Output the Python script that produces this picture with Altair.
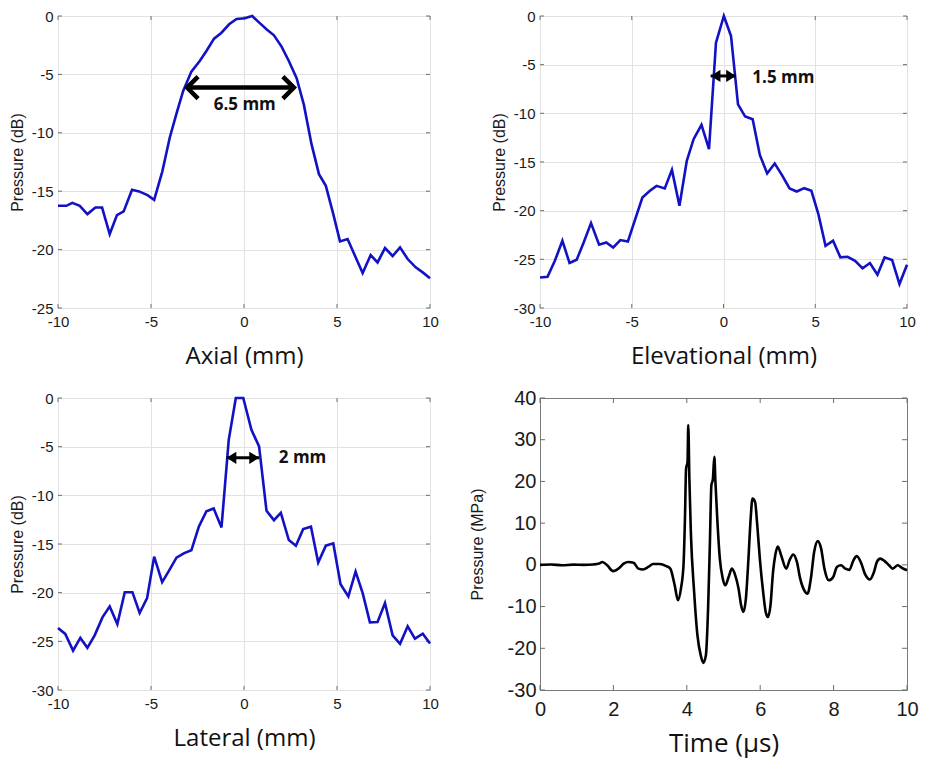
import altair as alt
import pandas as pd

# ---------------- data ----------------
axial_x = [-10, -9.55, -9.23, -8.83, -8.42, -7.99, -7.63, -7.22, -6.83, -6.47,
           -6.02, -5.64, -5.19, -4.83, -4.39, -3.99, -3.63, -3.27, -2.83, -2.38,
           -2.02, -1.61, -1.21, -0.80, -0.40, 0.04, 0.44, 0.82, 1.21, 1.61,
           2.02, 2.41, 2.83, 3.22, 3.63, 4.03, 4.40, 4.80, 5.16, 5.57,
           5.96, 6.38, 6.81, 7.18, 7.58, 7.99, 8.39, 8.80, 9.23, 9.61, 10.0]
axial_db = [-16.25, -16.25, -16.0, -16.25, -16.96, -16.4, -16.4, -18.67, -17.05, -16.73,
            -14.88, -15.02, -15.34, -15.74, -13.3, -10.4, -8.35, -6.41, -4.76, -3.85,
            -3.0, -1.94, -1.43, -0.71, -0.26, -0.2, 0.0, -0.57, -1.14, -1.65,
            -2.62, -3.85, -5.33, -7.61, -10.97, -13.54, -14.54, -16.96, -19.3, -19.1,
            -20.5, -22.0, -20.47, -21.1, -19.87, -20.55, -19.81, -20.81, -21.52, -21.95, -22.46]

elev_x = [-10, -9.59, -9.19, -8.78, -8.39, -8.0, -7.62, -7.22, -6.78, -6.39,
          -6.01, -5.62, -5.21, -4.81, -4.42, -4.01, -3.65, -3.20, -2.81, -2.40,
          -2.0, -1.63, -1.2, -0.79, -0.41, 0.02, 0.41, 0.79, 1.18, 1.59,
          1.98, 2.38, 2.79, 3.18, 3.60, 3.99, 4.40, 4.79, 5.17, 5.56,
          5.97, 6.37, 6.76, 7.17, 7.58, 7.98, 8.39, 8.78, 9.19, 9.59, 10.0]
elev_db = [-26.86, -26.79, -25.15, -23.09, -25.38, -25.04, -23.26, -21.28, -23.5, -23.26,
           -23.78, -23.02, -23.16, -20.87, -18.65, -17.96, -17.45, -17.72, -15.81, -19.5,
           -14.88, -12.66, -11.19, -13.68, -2.74, 0.0, -2.05, -9.07, -10.33, -10.6,
           -14.27, -16.18, -15.16, -16.32, -17.72, -18.03, -17.69, -17.96, -20.36, -23.61,
           -23.09, -24.8, -24.74, -25.15, -25.93, -25.38, -26.58, -24.8, -25.08, -27.54, -25.56]

lat_x = [-10, -9.61, -9.19, -8.80, -8.42, -8.03, -7.61, -7.22, -6.81, -6.41,
         -6.0, -5.61, -5.21, -4.83, -4.40, -4.03, -3.63, -3.24, -2.83, -2.43,
         -2.02, -1.63, -1.21, -0.82, -0.44, -0.04, 0.40, 0.81, 1.21, 1.61,
         1.98, 2.41, 2.79, 3.18, 3.60, 3.99, 4.40, 4.80, 5.19, 5.61,
         6.0, 6.38, 6.77, 7.18, 7.58, 7.99, 8.39, 8.80, 9.19, 9.61, 10.0]
lat_db = [-23.63, -24.24, -25.95, -24.65, -25.67, -24.38, -22.54, -21.41, -23.22, -19.95,
          -19.95, -22.09, -20.56, -16.3, -18.92, -17.73, -16.4, -15.96, -15.65, -13.23,
          -11.63, -11.35, -13.3, -4.3, 0.0, 0.0, -3.27, -4.98, -11.59, -12.55,
          -11.8, -14.59, -15.17, -13.47, -13.23, -16.91, -15.17, -14.93, -19.13, -20.39,
          -17.83, -20.05, -23.05, -23.01, -21.07, -24.38, -25.26, -23.46, -24.72, -24.21, -25.23]

time_us = [0, 0.3, 0.6, 0.9, 1.2, 1.45, 1.61, 1.70, 1.83, 1.99,
           2.15, 2.28, 2.41, 2.55, 2.68, 2.81, 2.95, 3.08, 3.26, 3.44,
           3.55, 3.67, 3.76, 3.84, 3.91, 3.95, 3.98, 4.02, 4.04, 4.07,
           4.11, 4.20, 4.29, 4.38, 4.45, 4.52, 4.58, 4.63, 4.67, 4.71,
           4.75, 4.78, 4.83, 4.90, 4.98, 5.05, 5.14, 5.23, 5.32, 5.41,
           5.48, 5.54, 5.61, 5.68, 5.74, 5.79, 5.86, 5.92, 5.99, 6.08,
           6.15, 6.21, 6.28, 6.35, 6.41, 6.48, 6.57, 6.71, 6.80, 6.90,
           7.00, 7.09, 7.20, 7.29, 7.38, 7.47, 7.57, 7.66, 7.75, 7.87,
           7.99, 8.09, 8.20, 8.32, 8.43, 8.54, 8.63, 8.74, 8.85, 8.99,
           9.10, 9.18, 9.27, 9.39, 9.51, 9.61, 9.75, 9.86, 10.0]
pressure_mpa = [0, 0.1, -0.1, 0.05, 0, 0.1, 0.3, 0.7, -0.1, -1.5,
                -0.8, 0.3, 0.7, 0.5, -0.9, -1.1, -0.5, 0.2, 0.2, -0.3,
                -0.9, -4.9, -8.5, -5.7, -0.1, 11.1, 23.0, 24.7, 33.5, 20.7,
                7.9, -6.5, -16.9, -21.7, -23.5, -21.7, -10.5, 5.5, 19.1, 20.5,
                25.9, 19.9, 11.1, 1.5, -3.3, -4.9, -2.9, -0.9, -2.5, -5.7,
                -9.7, -11.3, -8.1, 1.5, 11.1, 15.9, 15.1, 9.5, 1.5, -6.5,
                -11.3, -12.5, -9.7, -1.7, 2.3, 4.4, 2.3, -0.9, 1.1, 2.5,
                0.7, -3.3, -6.1, -6.9, -3.3, 3.1, 5.7, 3.9, -0.9, -3.7,
                -2.9, -0.5, -0.1, -0.9, -1.2, 1.1, 2.1, 0.7, -2.1, -3.5,
                -1.7, 0.7, 1.5, 0.9, -0.1, -0.9, -0.1, -0.7, -1.3]

# annotations: arrow ends (mm), arrow level (dB), label text and position
axial_arrow = [-3.06, 2.68]
axial_arrow_db = -6.13
axial_label = "6.5 mm"
axial_label_pos = [0.04, -7.64]

elev_arrow = [-0.70, 0.68]
elev_arrow_db = -6.16
elev_label = "1.5 mm"
elev_label_pos = [1.57, -6.33]

lat_arrow = [-0.94, 0.81]
lat_arrow_db = -6.14
lat_label = "2 mm"
lat_label_pos = [1.87, -6.14]

profile_xticks = [-10, -5, 0, 5, 10]
time_xticks = [0, 2, 4, 6, 8, 10]
time_yticks = [-30, -20, -10, 0, 10, 20, 30, 40]

# ---------------- styling ----------------
TICK_FONT = "Liberation Sans"
TITLE_FONT = "Open Sans"
BLUE = "#1212c4"
TICK_COLOR = "#6e6e6e"
W1, W2, H = 372, 367, 292
HYPHEN = "datum.value < 0 ? '-' + (-datum.value) : '' + datum.value"

CHEVRON_L = "M 1 -1 L 0 0 L 1 1"
CHEVRON_R = "M -1 -1 L 0 0 L -1 1"
TRI_L = "M 0 0 L 1.6 -1 L 1.6 1 Z"
TRI_R = "M 0 0 L -1.6 -1 L -1.6 1 Z"


def inner_ticks(X, Y, xname, yname, xvals, yvals, length, width):
    """MATLAB-style tick marks drawn inside the box on all four sides."""
    xdf = pd.DataFrame({xname: xvals})
    ydf = pd.DataFrame({yname: yvals})
    return [
        alt.Chart(ydf).mark_rule(color=TICK_COLOR, strokeWidth=1).encode(
            y=Y, x=alt.value(0), x2=alt.value(length)),
        alt.Chart(ydf).mark_rule(color=TICK_COLOR, strokeWidth=1).encode(
            y=Y, x=alt.value(width - length), x2=alt.value(width)),
        alt.Chart(xdf).mark_rule(color=TICK_COLOR, strokeWidth=1).encode(
            x=X, y=alt.value(H - length), y2=alt.value(H)),
        alt.Chart(xdf).mark_rule(color=TICK_COLOR, strokeWidth=1).encode(
            x=X, y=alt.value(0), y2=alt.value(length)),
    ]


def profile_panel(xs, ys, ymin, xtitle, width, arrow, arrow_db, label, label_pos,
                  label_align, chevron):
    yvals = list(range(ymin, 1, 5))
    X = alt.X("x:Q", scale=alt.Scale(domain=[-10, 10], nice=False),
              axis=alt.Axis(values=profile_xticks, grid=True, gridColor="#e2e2e2",
                            domain=False, ticks=False, labelFont=TICK_FONT,
                            labelFontSize=15, labelColor="#1a1a1a", labelPadding=6,
                            labelFlush=False, labelExpr=HYPHEN, title=xtitle,
                            titleFont=TITLE_FONT, titleFontSize=24,
                            titleFontWeight="normal", titleColor="#111",
                            titlePadding=15))
    Y = alt.Y("y:Q", scale=alt.Scale(domain=[ymin, 0], nice=False),
              axis=alt.Axis(values=yvals, grid=True,
                            gridColor="#e2e2e2", domain=False, ticks=False,
                            labelFont=TICK_FONT, labelFontSize=15,
                            labelColor="#1a1a1a", labelPadding=5, labelFlush=False,
                            labelExpr=HYPHEN,
                            title="Pressure (dB)", titleFont=TICK_FONT,
                            titleFontSize=16, titleFontWeight="normal",
                            titleColor="#1a1a1a", titlePadding=6))
    line = alt.Chart(pd.DataFrame({"x": xs, "y": ys})).mark_line(
        color=BLUE, strokeWidth=2.6).encode(x=X, y=Y)

    shaft_df = pd.DataFrame({"x": [arrow[0]], "x2": [arrow[1]], "y": [arrow_db]})
    left_df = pd.DataFrame({"x": [arrow[0]], "y": [arrow_db]})
    right_df = pd.DataFrame({"x": [arrow[1]], "y": [arrow_db]})
    if chevron:
        shaft = alt.Chart(shaft_df).mark_rule(color="black", strokeWidth=4.5).encode(
            x=X, x2="x2:Q", y=Y)
        hl = alt.Chart(left_df).mark_point(shape=CHEVRON_L, size=484, filled=False,
                                           color="black", opacity=1, strokeWidth=4.5,
                                           strokeJoin="miter").encode(x=X, y=Y)
        hr = alt.Chart(right_df).mark_point(shape=CHEVRON_R, size=484, filled=False,
                                            color="black", opacity=1, strokeWidth=4.5,
                                            strokeJoin="miter").encode(x=X, y=Y)
    else:
        shaft = alt.Chart(shaft_df).mark_rule(color="black", strokeWidth=3).encode(
            x=X, x2="x2:Q", y=Y)
        hl = alt.Chart(left_df).mark_point(shape=TRI_L, size=150, filled=True,
                                           color="black", opacity=1).encode(x=X, y=Y)
        hr = alt.Chart(right_df).mark_point(shape=TRI_R, size=150, filled=True,
                                            color="black", opacity=1).encode(x=X, y=Y)
    text = alt.Chart(pd.DataFrame({"x": [label_pos[0]], "y": [label_pos[1]],
                                   "t": [label]})).mark_text(
        font=TITLE_FONT, fontSize=17, fontWeight="bold", color="#111",
        align=label_align, baseline="middle").encode(x=X, y=Y, text="t:N")
    ticks = inner_ticks(X, Y, "x", "y", profile_xticks, yvals, 4, width)
    return alt.layer(*ticks, line, shaft, hl, hr, text).properties(
        width=width, height=H)


axial = profile_panel(axial_x, axial_db, -25, "Axial (mm)", W1, axial_arrow,
                      axial_arrow_db, axial_label, axial_label_pos, "center", True)
elev = profile_panel(elev_x, elev_db, -30, "Elevational (mm)", W2, elev_arrow,
                     elev_arrow_db, elev_label, elev_label_pos, "left", False)
lat = profile_panel(lat_x, lat_db, -30, "Lateral (mm)", W1, lat_arrow,
                    lat_arrow_db, lat_label, lat_label_pos, "left", False)

# ---------------- time trace ----------------
TX = alt.X("t:Q", scale=alt.Scale(domain=[0, 10], nice=False),
           axis=alt.Axis(values=time_xticks, grid=False, domain=False, ticks=False,
                         labelFont=TICK_FONT, labelFontSize=20, labelColor="#1a1a1a",
                         labelPadding=9, labelFlush=False, title="Time (µs)",
                         titleFont=TITLE_FONT, titleFontSize=26,
                         titleFontWeight="normal", titleColor="#111",
                         titlePadding=11))
TY = alt.Y("p:Q", scale=alt.Scale(domain=[-30, 40], nice=False),
           axis=alt.Axis(values=time_yticks, grid=False, domain=False, ticks=False,
                         labelFont=TICK_FONT, labelFontSize=20, labelColor="#1a1a1a",
                         labelPadding=4, labelFlush=False, labelExpr=HYPHEN,
                         title="Pressure (MPa)",
                         titleFont=TICK_FONT, titleFontSize=16,
                         titleFontWeight="normal", titleColor="#1a1a1a",
                         titlePadding=22))

trace = alt.Chart(pd.DataFrame({"t": time_us, "p": pressure_mpa})).mark_line(
    color="black", strokeWidth=2.6, interpolate="monotone").encode(x=TX, y=TY)

time_ticks = inner_ticks(TX, TY, "t", "p", time_xticks, time_yticks, 5, W2)
time_panel = alt.layer(*time_ticks, trace).properties(width=W2, height=H)

chart = alt.concat(axial, elev, lat, time_panel, columns=2,
                   spacing={"row": 90, "column": 110}, bounds="flush").properties(
    padding={"left": 0, "top": 0, "right": 0, "bottom": 1},
    background="white",
).configure_view(stroke="#7a7a7a", strokeWidth=1)

chart.save("out.html", embed_options={"renderer": "svg", "actions": False})
